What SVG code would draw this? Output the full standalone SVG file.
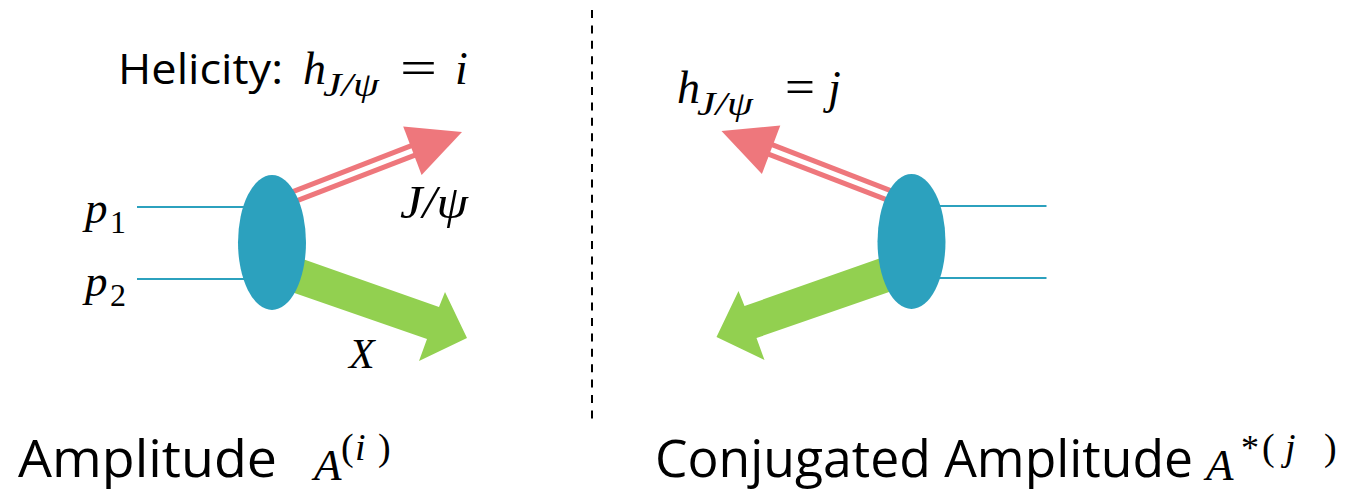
<svg xmlns="http://www.w3.org/2000/svg" width="1355" height="490" viewBox="0 0 1355 490">
<style>
.beam{stroke:#2CA1BE;stroke-width:2.2;fill:none}
.blob{fill:#2CA1BE}
.jpsi{stroke:#EE777C;stroke-width:5;fill:none}
.jhead{fill:#EE777C}
.xarr{fill:#92D050}
.sans{font-family:"Open Sans","Liberation Sans",sans-serif;fill:#000}
.mi{font-family:"Liberation Serif","DejaVu Serif",serif;font-style:italic;fill:#000}
.mu{font-family:"Liberation Serif","DejaVu Serif",serif;fill:#000}
.dash{stroke:#000;stroke-width:2;stroke-dasharray:8 7.4}
</style>
<defs>
<g id="vertex">
<line class="beam" x1="137" y1="207" x2="260" y2="207"/>
<line class="beam" x1="137" y1="279" x2="260" y2="279"/>
<line class="jpsi" x1="283.2" y1="195.3" x2="413.4" y2="144.9"/>
<line class="jpsi" x1="286.8" y1="204.7" x2="417" y2="154.3"/>
<polygon class="jhead" points="462,132 403.2,126.4 421.6,175"/>
<polygon class="xarr" points="280,251 439,307 445,292 467,338 419,361 427,339 280,288"/>
<ellipse class="blob" cx="272" cy="242.5" rx="34" ry="67.5"/>
</g>
</defs>
<g id="connectors">
<line class="dash" x1="592" y1="10" x2="592" y2="420"/>
</g>
<g id="amplitude">
<use href="#vertex"/>
<text class="sans" x="118" y="84" font-size="42" textLength="165" lengthAdjust="spacingAndGlyphs">Helicity:</text>
<text class="mi" x="303" y="84" font-size="46">h</text>
<text class="mi" x="323" y="96" font-size="34" textLength="56" lengthAdjust="spacingAndGlyphs">J/ψ</text>
<text class="mu" x="400" y="84" font-size="48" textLength="37" lengthAdjust="spacingAndGlyphs">=</text>
<text class="mi" x="455" y="84" font-size="46">i</text>
<text class="mi" x="400" y="218" font-size="46" textLength="68" lengthAdjust="spacingAndGlyphs">J/ψ</text>
<text class="mi" x="349" y="368" font-size="42">X</text>
<text class="mi" x="85" y="223" font-size="45">p</text>
<text class="mu" x="110" y="233" font-size="32">1</text>
<text class="mi" x="85" y="296" font-size="45">p</text>
<text class="mu" x="110" y="306" font-size="32">2</text>
<text class="sans" x="18" y="477" font-size="51" textLength="259" lengthAdjust="spacingAndGlyphs">Amplitude</text>
<text class="mi" x="314" y="480" font-size="45">A</text>
<text class="mu" x="341" y="460" font-size="38">(</text>
<text class="mi" x="355" y="460" font-size="38">i</text>
<text class="mu" x="378" y="460" font-size="38">)</text>
</g>
<g id="conjugated">
<use href="#vertex" transform="translate(1183.5,-1) scale(-1,1)"/>
<text class="mi" x="677" y="103" font-size="46">h</text>
<text class="mi" x="697" y="115" font-size="34" textLength="56" lengthAdjust="spacingAndGlyphs">J/ψ</text>
<text class="mu" x="785" y="103" font-size="48" textLength="30" lengthAdjust="spacingAndGlyphs">=</text>
<text class="mi" x="828" y="103" font-size="46">j</text>
<text class="sans" x="655" y="477" font-size="51" textLength="538" lengthAdjust="spacingAndGlyphs">Conjugated Amplitude</text>
<text class="mi" x="1206" y="480" font-size="45">A</text>
<text class="mu" x="1241" y="460" font-size="36">*</text>
<text class="mu" x="1262" y="460" font-size="38">(</text>
<text class="mi" x="1285" y="460" font-size="38">j</text>
<text class="mu" x="1324" y="460" font-size="38">)</text>
</g>
</svg>
